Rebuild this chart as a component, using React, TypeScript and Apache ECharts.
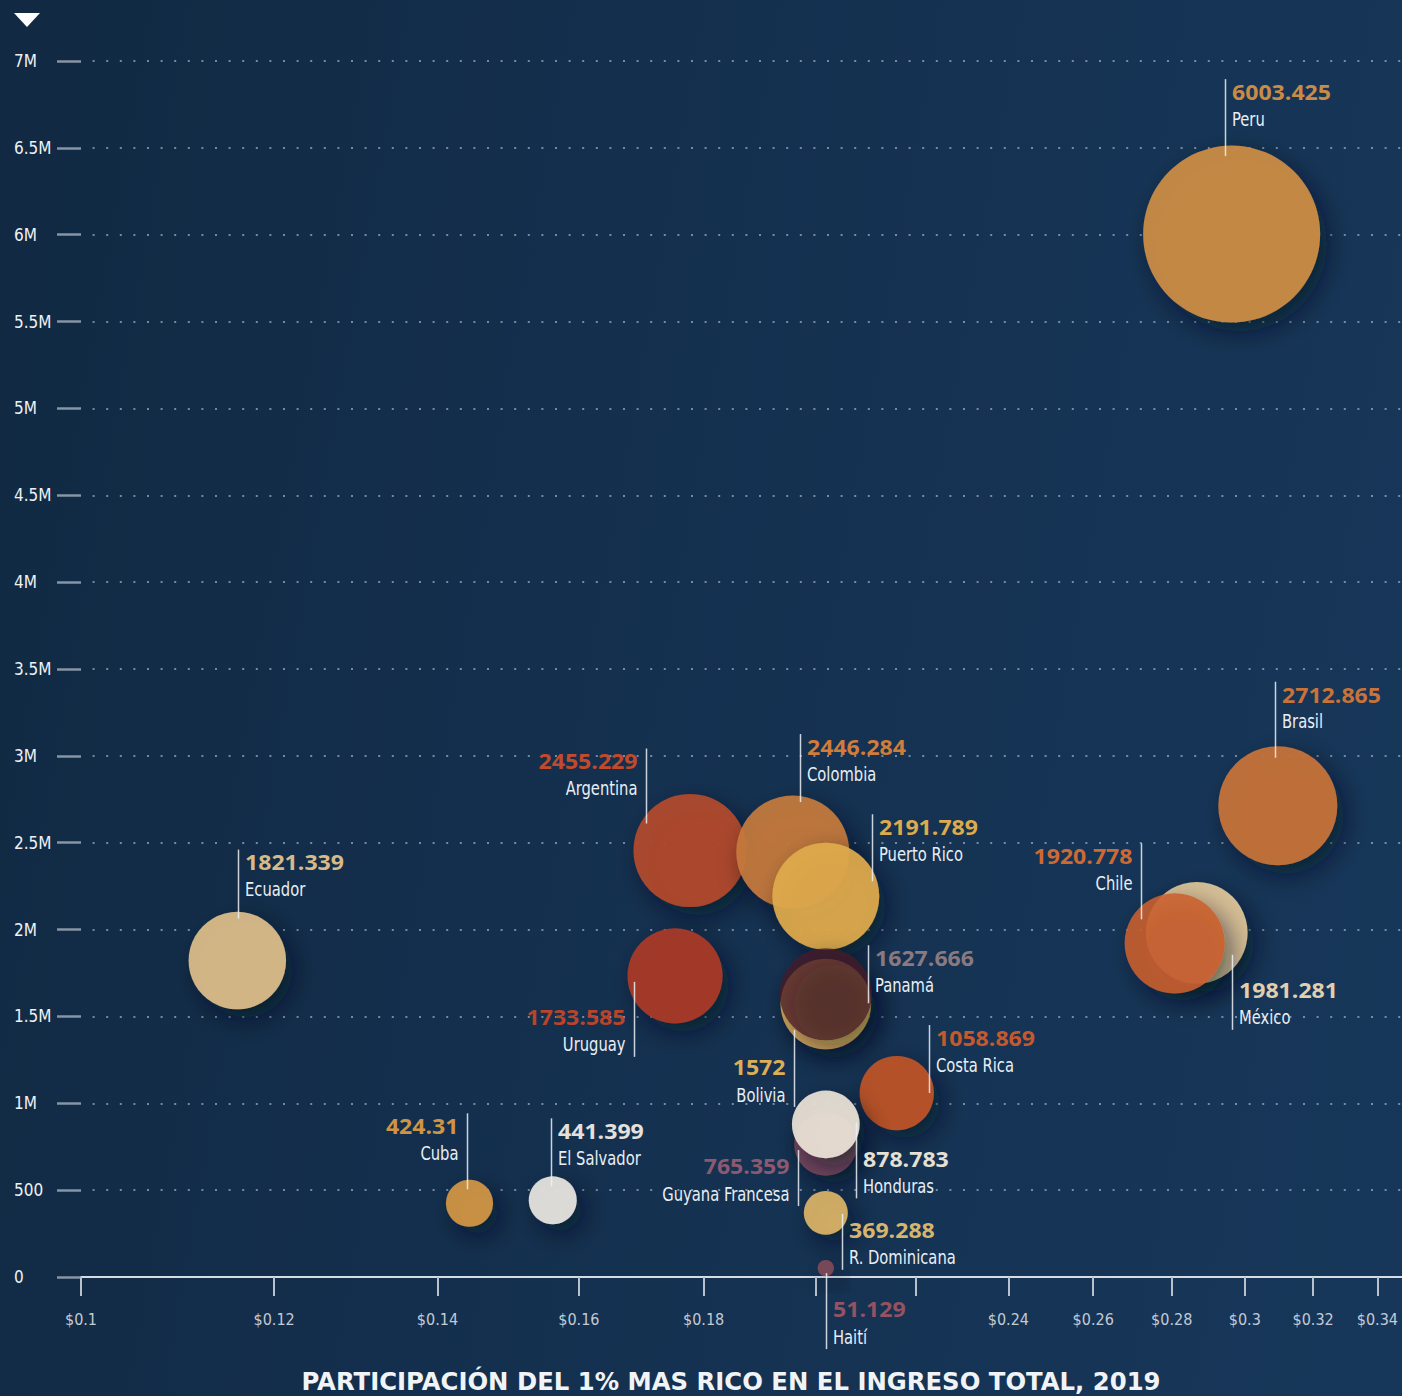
import React, { useEffect, useRef } from 'react';
import * as echarts from 'echarts';

// ---------- data ----------
const countries = ['Peru', 'Brasil', 'Argentina', 'Colombia', 'Puerto Rico', 'México', 'Chile', 'Ecuador', 'Uruguay', 'Bolivia', 'Panamá', 'Costa Rica', 'Guyana Francesa', 'Honduras', 'R. Dominicana', 'Cuba', 'El Salvador', 'Haití'];
const incomeShare = [0.2963, 0.3095, 0.1777, 0.1958, 0.2020, 0.2867, 0.2808, 0.1159, 0.1752, 0.2020, 0.2020, 0.2160, 0.2020, 0.2020, 0.2020, 0.1443, 0.1561, 0.2020];
const population = [6003425, 2712865, 2455229, 2446284, 2191789, 1981281, 1920778, 1821339, 1733585, 1572000, 1627666, 1058869, 765359, 878783, 369288, 424310, 441399, 51129];

const xTickValues = [0.1, 0.12, 0.14, 0.16, 0.18, 0.2, 0.22, 0.24, 0.26, 0.28, 0.3, 0.32, 0.34];
const xLabelValues = [0.1, 0.12, 0.14, 0.16, 0.18, 0.24, 0.26, 0.28, 0.3, 0.32, 0.34];
const yTickValues = [0, 500000, 1000000, 1500000, 2000000, 2500000, 3000000, 3500000, 4000000, 4500000, 5000000, 5500000, 6000000, 6500000, 7000000];
const yTickLabels = ['0', '500', '1M', '1.5M', '2M', '2.5M', '3M', '3.5M', '4M', '4.5M', '5M', '5.5M', '6M', '6.5M', '7M'];
const titleText = 'PARTICIPACIÓN DEL 1% MAS RICO EN EL INGRESO TOTAL, 2019';

// ---------- styles ----------
const bubbleColors = ['#c98b45', '#c4733a', '#b34a2c', '#c67b3c', '#e0aa4c', '#dcc49a', '#c9602f', '#d9bb88', '#a83a26', '#dcae5a', '#461d27', '#bb5228', '#7a4a5e', '#ece3d7', '#d6b066', '#cf9545', '#e4e1dc', '#7d4858'];
const bubbleOpacity = [0.95, 0.95, 0.92, 0.92, 0.92, 0.95, 0.88, 0.95, 0.95, 0.95, 0.75, 0.95, 0.92, 0.92, 0.95, 0.95, 0.95, 0.95];
const labelColors = ['#c98b45', '#c8733a', '#c24a2b', '#d07c3a', '#ddaa4c', '#e0d0ae', '#cd6a34', '#d6bb88', '#b8442a', '#dcae55', '#8a7a80', '#c6592b', '#8c5a70', '#e6e0d5', '#d8b56c', '#cf9545', '#e4e1dc', '#955260'];

// annotation leader layout (pixel offsets from bubble centre)
const annotationLayout = [
  { dx: -6.5, top: -155, bottom: -78, side: 'r', anchor: 't' },
  { dx: -2.5, top: -124, bottom: -48, side: 'r', anchor: 't' },
  { dx: -44, top: -102, bottom: -27, side: 'l', anchor: 't' },
  { dx: 7, top: -118, bottom: -50, side: 'r', anchor: 't' },
  { dx: 46, top: -82, bottom: -15, side: 'r', anchor: 't' },
  { dx: 35, top: 22, bottom: 97, side: 'r', anchor: 'b' },
  { dx: -33.5, top: -100, bottom: -24, side: 'l', anchor: 't' },
  { dx: 1, top: -111, bottom: -42, side: 'r', anchor: 't' },
  { dx: -41, top: 6, bottom: 81, side: 'l', anchor: 'b' },
  { dx: -32, top: 26, bottom: 103, side: 'l', anchor: 'b' },
  { dx: 42, top: -49, bottom: 9, side: 'r', anchor: 't' },
  { dx: 32, top: -68, bottom: 0, side: 'r', anchor: 't' },
  { dx: -28, top: 6, bottom: 62, side: 'l', anchor: 'b' },
  { dx: 30, top: -2, bottom: 74, side: 'r', anchor: 'b' },
  { dx: 16, top: 1, bottom: 57, side: 'r', anchor: 'b' },
  { dx: -2.5, top: -90, bottom: -14, side: 'l', anchor: 't' },
  { dx: -1.5, top: -82, bottom: -14, side: 'r', anchor: 't' },
  { dx: 0.5, top: 5, bottom: 81, side: 'r', anchor: 'b' },
];

const NARROW = '"DejaVu Sans Condensed", "DejaVu Sans", sans-serif';
const NUMFONT = '"Open Sans", Roboto, sans-serif';
const MAX_RADIUS = 88.5;

export default function App() {
  const ref = useRef<HTMLDivElement>(null);

  useEffect(() => {
    document.body.style.margin = '0';
    const chart = echarts.init(ref.current as HTMLDivElement, null, { renderer: 'svg' });
    const ln = Math.log;
    const maxPop = Math.max(...population);

    const bubbles = countries.map((name, i) => ({
      name,
      value: [ln(incomeShare[i]), population[i], i],
      itemStyle: { color: bubbleColors[i], opacity: bubbleOpacity[i] },
    }));
    const annos = countries.map((name, i) => ({ name, value: [ln(incomeShare[i]), population[i], i] }));

    const option: any = {
      animation: false,
      backgroundColor: 'transparent',
      grid: { left: 81, right: 0, top: 61, bottom: 119, containLabel: false },
      xAxis: {
        type: 'value',
        min: ln(0.1),
        max: ln(0.348),
        axisLine: { show: true, lineStyle: { color: '#d6dce3', width: 2 } },
        axisTick: {
          show: true,
          length: 19,
          customValues: xTickValues.map((v) => ln(v)),
          lineStyle: { color: '#b9c2cc', width: 2 },
        },
        axisLabel: {
          customValues: xLabelValues.map((v) => ln(v)),
          formatter: (v: number) => '$' + parseFloat(Math.exp(v).toFixed(2)),
          color: '#c3cad3',
          fontFamily: NARROW,
          fontSize: 16,
          margin: 34,
        },
        splitLine: { show: false },
      },
      yAxis: {
        type: 'value',
        min: 0,
        max: 7000000,
        interval: 500000,
        axisLine: { show: false },
        axisTick: { show: true, length: 24, lineStyle: { color: '#8795a5', width: 2.5 } },
        axisLabel: {
          formatter: (v: number) => yTickLabels[yTickValues.indexOf(v)] ?? '',
          align: 'left',
          margin: 67,
          color: '#eef1f5',
          fontFamily: NARROW,
          fontSize: 17,
          padding: [0, 0, 5, 0],
        },
        splitLine: {
          show: true,
          lineStyle: { color: 'rgba(185,198,215,0.6)', width: 2, type: [2, 11.6], dashOffset: 1.6 },
        },
      },
      graphic: [
        {
          type: 'polygon',
          shape: { points: [[14, 13], [40, 13], [27, 27]] },
          style: { fill: '#ffffff' },
          silent: true,
        },
        {
          type: 'text',
          x: 731,
          y: 1381,
          scaleX: 0.974,
          style: {
            text: titleText,
            fill: '#f1f4f7',
            font: 'bold 25px "DejaVu Sans", sans-serif',
            align: 'center',
            verticalAlign: 'middle',
          },
          silent: true,
        },
      ],
      series: [
        {
          type: 'scatter',
          data: bubbles,
          symbol: 'circle',
          symbolSize: (val: number[]) => 2 * MAX_RADIUS * Math.sqrt(val[1] / maxPop),
          itemStyle: {
            shadowBlur: 24,
            shadowOffsetX: 8,
            shadowOffsetY: 10,
            shadowColor: 'rgba(5,14,30,0.6)',
          },
          emphasis: { disabled: true },
          silent: true,
          z: 2,
        },
        {
          type: 'custom',
          data: annos,
          clip: false,
          silent: true,
          z: 5,
          renderItem: (params: any, api: any) => {
            const i = api.value(2);
            const c = api.coord([api.value(0), api.value(1)]);
            const a = annotationLayout[i];
            const lx = Math.round(c[0] + a.dx) + 0.5;
            const y1 = c[1] + a.top;
            const y2 = c[1] + a.bottom;
            const valueY = a.anchor === 't' ? y1 + 12.5 : y2 - 40;
            const nameY = a.anchor === 't' ? y1 + 39.5 : y2 - 12.5;
            const tx = a.side === 'r' ? lx + 6.5 : lx - 9;
            const align = a.side === 'r' ? 'left' : 'right';
            return {
              type: 'group',
              children: [
                {
                  type: 'line',
                  shape: { x1: lx, y1, x2: lx, y2 },
                  style: { stroke: 'rgba(236,240,245,0.85)', lineWidth: 1.5 },
                },
                {
                  type: 'text',
                  x: tx,
                  y: valueY,
                  scaleX: 1.05,
                  style: {
                    text: String(api.value(1) / 1000),
                    fill: labelColors[i],
                    font: 'bold 22px ' + NUMFONT,
                    align,
                    verticalAlign: 'middle',
                  },
                },
                {
                  type: 'text',
                  x: tx,
                  y: nameY,
                  scaleX: 0.82,
                  style: {
                    text: countries[i],
                    fill: '#e9eef3',
                    font: '20px ' + NARROW,
                    align,
                    verticalAlign: 'middle',
                  },
                },
              ],
            };
          },
        },
      ],
    };

    chart.setOption(option);
    return () => chart.dispose();
  }, []);

  return (
    <div
      ref={ref}
      style={{
        position: 'absolute',
        left: 0,
        top: 0,
        width: 1402,
        height: 1396,
        background: 'linear-gradient(100deg, #112942 0%, #14304f 45%, #17375a 100%)',
      }}
    />
  );
}
